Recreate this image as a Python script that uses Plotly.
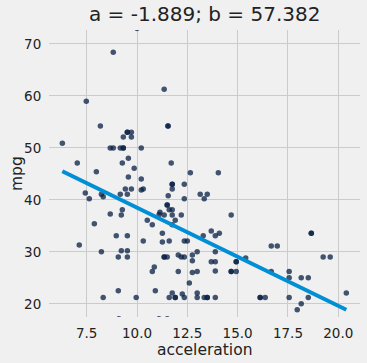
import plotly.graph_objects as go

# acceleration values
acceleration = [
    10.0, 8.82, 11.35, 7.48, 8.18, 9.52, 9.52, 9.72, 11.54, 11.54,
    9.32, 9.72, 6.29, 8.67, 8.82, 9.17, 9.32, 9.32, 10.21, 9.57,
    7.03, 9.27, 11.70, 9.86, 7.98, 12.65, 9.57, 10.21, 11.75, 11.75,
    12.35, 9.42, 9.72, 10.21, 10.31, 11.75, 7.43, 8.23, 8.32, 9.17,
    9.52, 11.55, 13.14, 13.49, 7.63, 12.35, 13.34, 8.67, 9.27, 9.22,
    7.88, 7.13, 8.23, 8.32, 8.97, 9.52, 9.22, 9.52, 9.07, 9.52,
    9.07, 9.96, 9.10, 11.14, 11.10, 11.35, 11.50, 11.50, 11.60, 11.75,
    11.75, 11.90, 12.20, 10.51, 10.76, 11.75, 11.26, 10.31, 11.26, 11.60,
    12.35, 12.50, 13.29, 12.99, 12.75, 12.05, 12.20, 12.35, 11.35, 11.35,
    11.50, 12.75, 10.86, 10.76, 12.05, 12.75, 12.99, 12.60, 10.91, 11.75,
    12.25, 12.99, 11.60, 11.90, 11.90, 12.35, 12.99, 13.34, 13.49, 13.49,
    11.09, 11.50, 14.04, 14.68, 13.69, 14.09, 13.89, 13.89, 13.69, 13.89,
    13.89, 14.68, 14.68, 14.93, 14.93, 14.93, 15.40, 16.67, 16.97, 16.67,
    17.56, 17.56, 18.16, 18.51, 18.66, 18.66, 19.25, 19.60, 13.89, 16.12,
    16.12, 16.37, 17.56, 18.51, 18.16, 17.96, 20.40,
]
# mpg values
mpg = [
    73.0, 68.4, 61.3, 59.0, 54.2, 53.0, 53.0, 53.0, 54.2, 54.2,
    52.1, 52.1, 50.9, 50.0, 50.0, 50.0, 50.0, 50.0, 50.0, 48.0,
    47.1, 47.1, 47.1, 46.1, 45.4, 45.2, 44.4, 44.0, 43.0, 43.0,
    43.0, 42.1, 42.1, 41.9, 42.1, 42.1, 41.3, 41.1, 40.6, 41.1,
    41.1, 40.8, 41.1, 41.1, 40.2, 40.2, 40.2, 37.3, 38.1, 37.1,
    35.4, 31.3, 30.0, 21.2, 33.1, 33.1, 30.2, 30.2, 29.0, 29.0,
    22.5, 21.2, 17.1, 37.6, 37.2, 37.1, 39.0, 39.0, 38.1, 38.1,
    37.1, 36.1, 37.1, 36.1, 35.2, 35.2, 33.6, 32.1, 31.9, 32.1,
    32.1, 32.1, 33.1, 30.0, 29.4, 29.4, 29.0, 29.0, 29.0, 29.0,
    29.0, 28.3, 27.1, 26.2, 26.2, 26.0, 26.2, 24.0, 22.5, 22.1,
    21.9, 22.1, 21.2, 21.2, 21.2, 21.2, 21.2, 21.2, 21.2, 21.2,
    17.1, 17.1, 45.2, 37.1, 34.0, 33.6, 33.1, 30.0, 28.1, 28.1,
    26.3, 26.2, 26.2, 26.2, 28.1, 28.1, 28.8, 31.1, 31.1, 26.2,
    26.2, 25.0, 25.0, 25.0, 33.6, 33.6, 29.0, 29.0, 21.2, 21.2,
    21.2, 21.2, 21.2, 21.2, 20.0, 18.85, 22.1,
]

a = -1.889
b = 57.382
title_text = "a = -1.889; b = 57.382"
x_label = "acceleration"
y_label = "mpg"
x_ticks = [7.5, 10.0, 12.5, 15.0, 17.5, 20.0]
y_ticks = [20, 30, 40, 50, 60, 70]

x_line = [min(acceleration), max(acceleration)]
y_line = [a * v + b for v in x_line]

fig = go.Figure()
fig.add_trace(go.Scatter(
    x=acceleration, y=mpg, mode="markers",
    marker=dict(size=5.5, color="rgba(10,33,70,0.76)", line=dict(width=0)),
    hoverinfo="skip", showlegend=False,
))
fig.add_trace(go.Scatter(
    x=x_line, y=y_line, mode="lines",
    line=dict(color="#008fd5", width=4),
    hoverinfo="skip", showlegend=False,
))

font_family = "DejaVu Sans"
text_color = "#222222"
fig.update_layout(
    width=367, height=363,
    margin=dict(l=49, r=7, t=30, b=45.5, autoexpand=False),
    paper_bgcolor="#f0f0f0", plot_bgcolor="#f0f0f0",
    font=dict(family=font_family, color=text_color, size=13),
    hovermode=False,
)
fig.add_annotation(text=title_text, xref="paper", yref="paper", x=0.5, y=1,
                   xanchor="center", yanchor="bottom", yshift=2, showarrow=False,
                   font=dict(size=20, family=font_family, color=text_color))
fig.add_annotation(text=x_label, xref="paper", yref="paper", x=0.5, y=0,
                   xanchor="center", yanchor="top", yshift=-21.5, showarrow=False,
                   font=dict(size=15.5, family=font_family, color=text_color))
fig.add_annotation(text=y_label, xref="paper", yref="paper", x=0, y=0.5,
                   xanchor="center", yanchor="middle", xshift=-32.5, textangle=-90,
                   showarrow=False,
                   font=dict(size=15.5, family=font_family, color=text_color))
fig.update_xaxes(
    range=[5.627, 21.08], tickvals=x_ticks, ticktext=[f"{v:.1f}" for v in x_ticks],
    showgrid=True, gridcolor="#cbcbcb", gridwidth=1.3, zeroline=False, showline=False,
    ticks="outside", ticklen=4, tickcolor="#f0f0f0", automargin=False,
    tickfont=dict(size=13.5),
)
fig.update_yaxes(
    range=[17.46, 72.69], tickvals=y_ticks,
    showgrid=True, gridcolor="#cbcbcb", gridwidth=1.3, zeroline=False, showline=False,
    ticks="outside", ticklen=4, tickcolor="#f0f0f0", automargin=False,
    tickfont=dict(size=13.5),
)
fig.write_html(
    "out.html",
    config={"displayModeBar": False},
    post_script="document.body.style.margin='0';document.body.style.background='#f0f0f0';",
)
